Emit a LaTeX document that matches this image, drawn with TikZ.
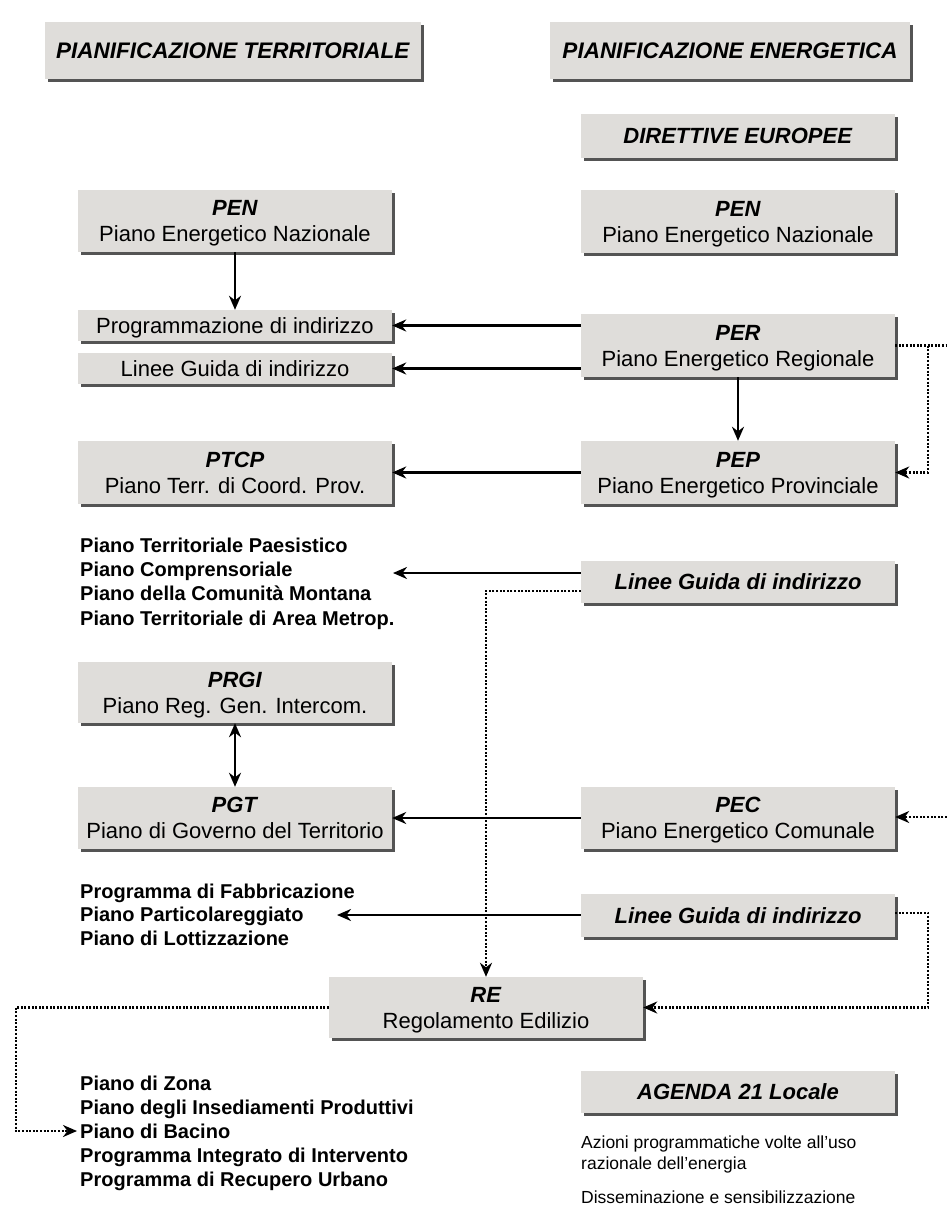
\documentclass[tikz,border=0pt]{standalone}
\usepackage{fontspec}
\setmainfont{Liberation Sans}
\usetikzlibrary{shadows,arrows.meta,calc}
\definecolor{boxgray}{RGB}{223,221,218}
\definecolor{shade}{RGB}{55,55,55}
\newcommand\bitext[1]{\textbf{\textit{#1}}}

\begin{document}
\begin{tikzpicture}[x=1pt,y=-1pt,
  panel/.style={fill=boxgray, inner sep=0pt, align=center, text=black, text depth=0pt,
    drop shadow={shadow xshift=2.5pt, shadow yshift=-2.5pt, fill=shade, opacity=0.85},
    font=\fontsize{22}{26}\selectfont},
  wbox/.style={panel, minimum width=314pt},
  tip/.style={Stealth[length=14pt,width=12pt,inset=4.5pt]},
  link/.style={line width=2.3pt, -{Stealth[length=14pt,width=12pt,inset=4.5pt]}},
  dotlink/.style={link, dash pattern=on 2pt off 1.6pt},
  lst/.style={inner sep=0pt, align=left, anchor=base west},
  note/.style={inner sep=0pt, align=left, anchor=base west, font=\fontsize{17.5}{21}\selectfont},
]
\fill[white] (0,0) rectangle (947,1205);
\useasboundingbox (0,0) rectangle (947,1205);

% column headers
\node[panel, minimum width=376pt, minimum height=57pt, font=\fontsize{22.5}{26}\selectfont] (hdrL) at (233,50.5) {\bitext{PIANIFICAZIONE TERRITORIALE}};
\node[panel, minimum width=360pt, minimum height=57pt, font=\fontsize{22.5}{26}\selectfont] (hdrR) at (730,50.5) {\bitext{PIANIFICAZIONE ENERGETICA}};

% energy planning column
\node[wbox, minimum height=44pt] (dir) at (738,136) {\bitext{DIRETTIVE EUROPEE}};
\node[wbox, minimum height=63pt] (penR) at (738,221.5) {\bitext{PEN}\\Piano Energetico Nazionale};
\node[wbox, minimum height=63pt] (per) at (738,345.5) {\bitext{PER}\\Piano Energetico Regionale};
\node[wbox, minimum height=63pt] (pep) at (738,472.5) {\bitext{PEP}\\Piano Energetico Provinciale};
\node[wbox, minimum height=42pt] (lgA) at (738,582) {\bitext{Linee Guida di indirizzo}};
\node[wbox, minimum height=62pt] (pec) at (738,818) {\bitext{PEC}\\Piano Energetico Comunale};
\node[wbox, minimum height=43pt] (lgB) at (738,915.5) {\bitext{Linee Guida di indirizzo}};
\node[wbox, minimum height=42pt] (ag) at (738,1092) {\bitext{AGENDA 21 Locale}};
\node[note] (az) at (581,1169) {Azioni programmatiche volte all’uso\\razionale dell’energia};
\node[note] (dis) at (581,1203) {Disseminazione e sensibilizzazione};

% territorial planning column
\node[wbox, minimum height=62pt] (penL) at (235,221) {\bitext{PEN}\\Piano Energetico Nazionale};
\node[wbox, minimum height=31pt] (prog) at (235,325.5) {Programmazione di indirizzo};
\node[wbox, minimum height=31pt] (lgT) at (235,368.5) {Linee Guida di indirizzo};
\node[wbox, minimum height=63pt] (ptcp) at (235,472.5) {\bitext{PTCP}\\Piano Terr. di Coord. Prov.};
\node[lst, font=\fontsize{20}{24.3}\selectfont\bfseries] (listA) at (80,625)
  {Piano Territoriale Paesistico\\Piano Comprensoriale\\Piano della Comunità Montana\\Piano Territoriale di Area Metrop.};
\node[wbox, minimum height=61pt] (prgi) at (235,692.5) {\bitext{PRGI}\\Piano Reg. Gen. Intercom.};
\node[wbox, minimum height=62pt] (pgt) at (235,818) {\bitext{PGT}\\Piano di Governo del Territorio};
\node[lst, font=\fontsize{20}{23.5}\selectfont\bfseries] (listB) at (80,945)
  {Programma di Fabbricazione\\Piano Particolareggiato\\Piano di Lottizzazione};
\node[wbox, minimum height=61pt] (re) at (486,1007.5) {\bitext{RE}\\Regolamento Edilizio};
\node[lst, font=\fontsize{20}{24}\selectfont\bfseries] (listC) at (80,1186)
  {Piano di Zona\\Piano degli Insediamenti Produttivi\\Piano di Bacino\\Programma Integrato di Intervento\\Programma di Recupero Urbano};

% free ends of connectors
\coordinate (inA) at (393,573);
\coordinate (inB) at (337,915);
\coordinate (inC) at (77,1131);
\coordinate (offA) at (947,345.5);
\coordinate (offB) at (947,817);
\coordinate (jn) at (928,345.5);

% solid connectors
\draw[link] (penL) -- (prog);
\draw[link] (prog.east -| per.west) -- (prog.east);
\draw[link] (lgT.east -| per.west) -- (lgT.east);
\draw[link] (per) -- (pep);
\draw[link] (pep) -- (ptcp);
\draw[link] (inA -| lgA.west) -- (inA);
\draw[line width=2.3pt, {Stealth[length=14pt,width=12pt,inset=4.5pt]}-{Stealth[length=14pt,width=12pt,inset=4.5pt]}] (prgi) -- (pgt);
\draw[link] (pec) -- (pgt);
\draw[link] (inB -| lgB.west) -- (inB);

% dotted connectors
\draw[dotlink, -] (per.east) -- (offA);
\draw[dotlink] (jn) -- (jn |- pep.east) -- (pep.east);
\draw[dotlink] (offB) -- (offB -| pec.east);
\draw[dotlink] ([yshift=-9pt]lgA.west) -| (re.north);
\draw[dotlink] ([yshift=2.5pt]lgB.east) -- ++(33,0) |- (re.east);
\draw[dotlink] (re.west) -- ++(-313,0) |- (inC);
\end{tikzpicture}
\end{document}
